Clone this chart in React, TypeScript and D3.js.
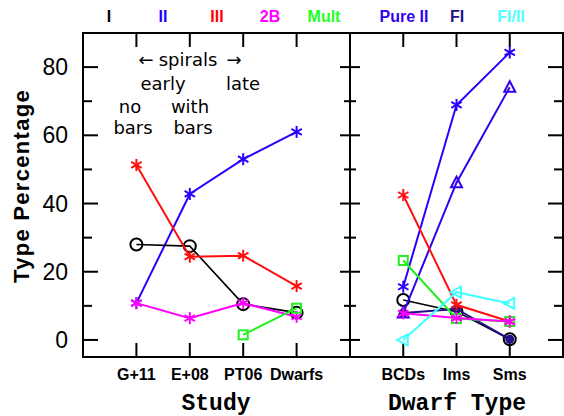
import React from "react";
import * as d3 from "d3";

const studyCats = ["G+11", "E+08", "PT06", "Dwarfs"];
const dwarfCats = ["BCDs", "Ims", "Sms"];

// Left panel (Study)
const studyI = [28, 27.5, 10.5, 8];
const studyII = [10.8, 42.8, 53, 61];
const studyIII = [51.3, 24.4, 24.7, 15.8];
const study2B = [10.8, 6.4, 10.8, 6.8];
const studyMult: (number | null)[] = [null, null, 1.5, 9.3];

// Right panel (Dwarf Type)
const dwarfI = [11.7, 8.3, 0.2];
const dwarfII = [15.6, 68.9, 84.3];
const dwarfIII = [42.5, 10.3, 5.4];
const dwarf2B = [7.8, 6.4, 5.4];
const dwarfMult = [23.3, 6.3, 5.4];
const dwarfPureII = [7.9, 46.1, 74.1];
const dwarfFI = [7.9, 9.1, 0.2];
const dwarfFIII = [0, 14, 10.7];

const legendLabels = ["I", "II", "III", "2B", "Mult", "Pure II", "FI", "FI/II"];
const legendColors = ["#000000", "#2200ff", "#ff0000", "#ff00ff", "#22ff22", "#3300ee", "#221188", "#55ffff"];
const yTicksMajor = [0, 20, 40, 60, 80];
const yTicksMinor = [10, 30, 50, 70];

const C = {
  I: "#000000", II: "#2a00ff", III: "#ff1010", B2: "#ff00ff", Mult: "#22ee22",
  PureII: "#3300ee", FI: "#221188", FIII: "#44ffff",
};

const y = d3.scaleLinear().domain([-5, 90]).range([357, 33]);
const xL = d3.scaleLinear().domain([0, 5]).range([83, 350]);
const xR = d3.scaleLinear().domain([0, 4]).range([350, 563]);

type Sym = "ast" | "circ" | "sq" | "tri" | "ltri" | "dot";

function Marker({ s, cx, cy, color }: { s: Sym; cx: number; cy: number; color: string }) {
  const sw = 2;
  if (s === "ast") {
    const r = 6;
    const pts = [90, 30, 150].map((a) => {
      const t = (a * Math.PI) / 180;
      return [Math.cos(t) * r, Math.sin(t) * r];
    });
    return (
      <g stroke={color} strokeWidth={sw}>
        {pts.map(([dx, dy], i) => (
          <line key={i} x1={cx - dx} y1={cy - dy} x2={cx + dx} y2={cy + dy} />
        ))}
      </g>
    );
  }
  if (s === "circ") return <circle cx={cx} cy={cy} r={6} fill="none" stroke={color} strokeWidth={sw} />;
  if (s === "dot") return <circle cx={cx} cy={cy} r={4.5} fill={color} stroke="none" />;
  if (s === "sq") return <rect x={cx - 4.5} y={cy - 4.5} width={9} height={9} fill="none" stroke={color} strokeWidth={sw} />;
  if (s === "tri") {
    const p = `${cx},${cy - 6} ${cx - 5.5},${cy + 4.5} ${cx + 5.5},${cy + 4.5}`;
    return <polygon points={p} fill="none" stroke={color} strokeWidth={sw} />;
  }
  const p = `${cx - 6},${cy} ${cx + 4.5},${cy - 5.5} ${cx + 4.5},${cy + 5.5}`;
  return <polygon points={p} fill="none" stroke={color} strokeWidth={sw} />;
}

function Series({ vals, x, color, s, lw = 2 }: { vals: (number | null)[]; x: d3.ScaleLinear<number, number>; color: string; s: Sym; lw?: number }) {
  const line = d3
    .line<number | null>()
    .defined((d) => d !== null)
    .x((_, i) => x(i + 1))
    .y((d) => y(d as number));
  return (
    <g>
      <path d={line(vals) || ""} fill="none" stroke={color} strokeWidth={lw} />
      {vals.map((v, i) =>
        v === null ? null : <Marker key={i} s={s} cx={x(i + 1)} cy={y(v)} color={color} />
      )}
    </g>
  );
}

function YTicks({ x0, dir, major, minor }: { x0: number; dir: number; major: number; minor: number }) {
  return (
    <g stroke="#000" strokeWidth={2}>
      {yTicksMajor.map((t) => (
        <line key={"M" + t} x1={x0} x2={x0 + dir * major} y1={y(t)} y2={y(t)} />
      ))}
      {yTicksMinor.map((t) => (
        <line key={"m" + t} x1={x0} x2={x0 + dir * minor} y1={y(t)} y2={y(t)} />
      ))}
    </g>
  );
}

export default function App() {
  const top = y(90);
  const bot = y(-5);
  const tickFont = "'Liberation Sans', Arial, sans-serif";
  const annFont = "'DejaVu Sans', sans-serif";
  return (
    <svg width={564} height={416} style={{ position: "absolute", left: 0, top: 0, background: "#fff" }}>
      <rect x={0} y={0} width={564} height={416} fill="#fff" />
      {/* legend */}
      {legendLabels.map((l, i) => (
        <text key={l} x={[109, 163, 217, 270, 324, 404, 457, 511][i]} y={22} textAnchor="middle"
          fontFamily={tickFont} fontWeight="bold" fontSize={16} fill={legendColors[i]}>
          {l}
        </text>
      ))}

      {/* frame */}
      <rect x={xL(0)} y={top} width={xR(4) - xL(0)} height={bot - top} fill="none" stroke="#000" strokeWidth={2} />
      <line x1={350} x2={350} y1={top} y2={bot} stroke="#000" strokeWidth={2} />

      {/* y ticks */}
      <YTicks x0={xL(0)} dir={1} major={15} minor={9} />
      <YTicks x0={350} dir={-1} major={10} minor={6} />
      <YTicks x0={350} dir={1} major={10} minor={6} />
      <YTicks x0={xR(4)} dir={-1} major={15} minor={9} />

      {/* x ticks */}
      <g stroke="#000" strokeWidth={2}>
        {studyCats.map((c, i) => (
          <g key={c}>
            <line x1={xL(i + 1)} x2={xL(i + 1)} y1={top} y2={top + 14} />
            <line x1={xL(i + 1)} x2={xL(i + 1)} y1={bot} y2={bot - 14} />
          </g>
        ))}
        {dwarfCats.map((c, i) => (
          <g key={c}>
            <line x1={xR(i + 1)} x2={xR(i + 1)} y1={top} y2={top + 14} />
            <line x1={xR(i + 1)} x2={xR(i + 1)} y1={bot} y2={bot - 14} />
          </g>
        ))}
      </g>

      {/* y tick labels */}
      {yTicksMajor.map((t) => (
        <text key={t} x={68} y={y(t) + 8} textAnchor="end" fontFamily={tickFont} fontSize={23} fill="#000">
          {t}
        </text>
      ))}
      <text transform={`translate(29,${(top + bot) / 2 - 9}) rotate(-90)`} textAnchor="middle"
        fontFamily={tickFont} fontWeight="bold" fontSize={22} letterSpacing={1.3} fill="#000">
        Type Percentage
      </text>

      {/* x tick labels */}
      {studyCats.map((c, i) => (
        <text key={c} x={xL(i + 1)} y={380} textAnchor="middle" fontFamily={tickFont} fontWeight="bold" fontSize={16} fill="#000">
          {c}
        </text>
      ))}
      {dwarfCats.map((c, i) => (
        <text key={c} x={xR(i + 1)} y={380} textAnchor="middle" fontFamily={tickFont} fontWeight="bold" fontSize={16} fill="#000">
          {c}
        </text>
      ))}
      <text x={216} y={410} textAnchor="middle" fontFamily="'Liberation Mono', monospace" fontWeight="bold" fontSize={23} fill="#000">
        Study
      </text>
      <text x={457} y={410} textAnchor="middle" fontFamily="'Liberation Mono', monospace" fontWeight="bold" fontSize={23} fill="#000">
        Dwarf Type
      </text>

      {/* annotations */}
      <g fontFamily={annFont} fontSize={18} fill="#000" textAnchor="middle">
        <text x={146} y={66}>←</text>
        <text x={188} y={66}>spirals</text>
        <text x={234} y={66}>→</text>
        <text x={163} y={90}>early</text>
        <text x={243} y={90}>late</text>
        <text x={130} y={113}>no</text>
        <text x={190} y={113}>with</text>
        <text x={133} y={134}>bars</text>
        <text x={193} y={134}>bars</text>
      </g>

      {/* left panel series */}
      <Series vals={studyII} x={xL} color={C.II} s="ast" />
      <Series vals={studyI} x={xL} color={C.I} s="circ" lw={1.6} />
      <Series vals={studyIII} x={xL} color={C.III} s="ast" />
      <Series vals={study2B} x={xL} color={C.B2} s="ast" />
      <Series vals={studyMult} x={xL} color={C.Mult} s="sq" />

      {/* right panel series */}
      <Series vals={dwarfI} x={xR} color={C.I} s="circ" lw={1.6} />
      <Series vals={dwarfII} x={xR} color={C.II} s="ast" />
      <Series vals={dwarfPureII} x={xR} color={C.PureII} s="tri" />
      <Series vals={dwarfFI} x={xR} color={C.FI} s="dot" />
      <Series vals={dwarfIII} x={xR} color={C.III} s="ast" />
      <Series vals={dwarfMult} x={xR} color={C.Mult} s="sq" />
      <Series vals={dwarf2B} x={xR} color={C.B2} s="ast" />
      <Series vals={dwarfFIII} x={xR} color={C.FIII} s="ltri" />
    </svg>
  );
}
